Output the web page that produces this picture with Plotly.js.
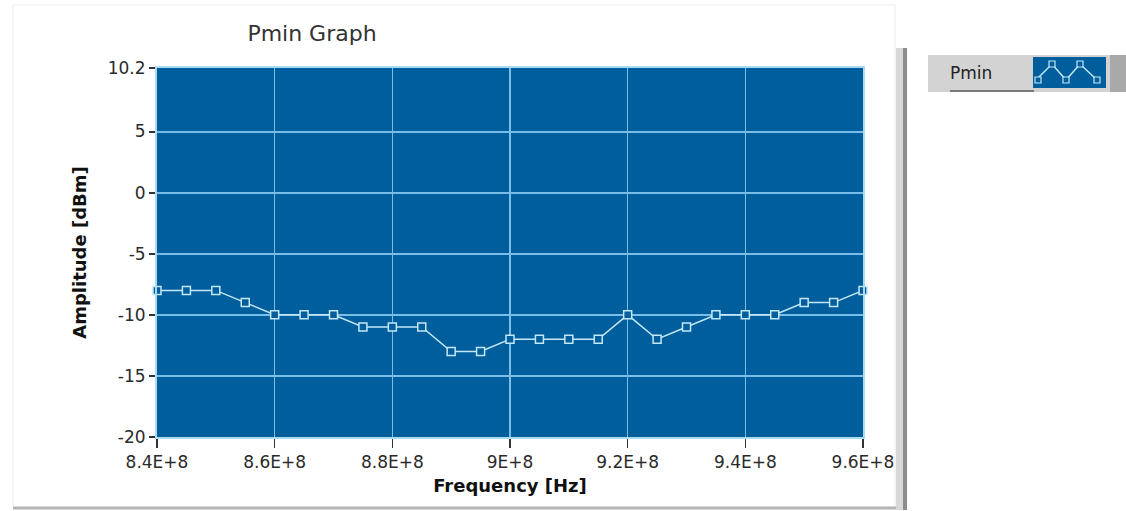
<!DOCTYPE html>
<html>
<head>
<meta charset="utf-8">
<script src="https://cdn.plot.ly/plotly-3.0.1.min.js"></script>
<style>
  html, body { margin: 0; padding: 0; background: #ffffff; }
  #chart { width: 1126px; height: 511px; }
</style>
</head>
<body>
<div id="chart"></div>
<script>
// ---- data ----
const frequencyHz = [
  8.40e8, 8.45e8, 8.50e8, 8.55e8, 8.60e8, 8.65e8, 8.70e8, 8.75e8, 8.80e8,
  8.85e8, 8.90e8, 8.95e8, 9.00e8, 9.05e8, 9.10e8, 9.15e8, 9.20e8, 9.25e8,
  9.30e8, 9.35e8, 9.40e8, 9.45e8, 9.50e8, 9.55e8, 9.60e8
];
const pminDbm = [
  -8, -8, -8, -9, -10, -10, -10, -11, -11,
  -11, -13, -13, -12, -12, -12, -12, -10, -12,
  -11, -10, -10, -10, -9, -9, -8
];
const xTickVals = [8.4e8, 8.6e8, 8.8e8, 9.0e8, 9.2e8, 9.4e8, 9.6e8];
const xTickText = ["8.4E+8", "8.6E+8", "8.8E+8", "9E+8", "9.2E+8", "9.4E+8", "9.6E+8"];
const yTickVals = [-20, -15, -10, -5, 0, 5, 10.2];
const yTickText = ["-20", "-15", "-10", "-5", "0", "5", "10.2"];
const seriesName = "Pmin";

// ---- layout helpers (pixel -> paper) ----
const L = 157, T = 68, W = 706, H = 369;
const px = x => (x - L) / W;
const py = y => (T + H - y) / H;

const plotBlue = "#005e9c";
const gridBlue = "#78bee9";
const traceCol = "#c2e7f8";
const font = "DejaVu Sans, Verdana, sans-serif";

const shapes = [
  // outer panel frame
  {type:"rect", xref:"paper", yref:"paper", x0:px(13), x1:px(895), y0:py(508), y1:py(5),
   line:{color:"#ececec", width:1}, fillcolor:"rgba(0,0,0,0)", layer:"below"},
  // bottom edge of panel
  {type:"line", xref:"paper", yref:"paper", x0:px(13), x1:px(907), y0:py(508), y1:py(508),
   line:{color:"#b4b4b4", width:3}, layer:"below"},
  // vertical splitter bar
  {type:"rect", xref:"paper", yref:"paper", x0:px(896), x1:px(903), y0:py(510), y1:py(48),
   line:{width:0}, fillcolor:"#d9d9d9", layer:"below"},
  {type:"rect", xref:"paper", yref:"paper", x0:px(903), x1:px(907), y0:py(510), y1:py(48),
   line:{width:0}, fillcolor:"#8c8c8c", layer:"below"},
  // legend box
  {type:"rect", xref:"paper", yref:"paper", x0:px(928), x1:px(1112), y0:py(92), y1:py(55),
   line:{width:0}, fillcolor:"#d3d3d3"},
  {type:"rect", xref:"paper", yref:"paper", x0:px(1110), x1:px(1126), y0:py(92), y1:py(55),
   line:{width:0}, fillcolor:"#a9a9a9"},
  {type:"line", xref:"paper", yref:"paper", x0:px(950), x1:px(1034), y0:py(91), y1:py(91),
   line:{color:"#7a7a7a", width:2}},
  {type:"rect", xref:"paper", yref:"paper", x0:px(1033), x1:px(1106), y0:py(88), y1:py(57),
   line:{width:0}, fillcolor:plotBlue},
  {type:"path", xref:"paper", yref:"paper",
   path:`M${px(1036)},${py(80)} L${px(1052)},${py(64)} L${px(1066)},${py(80)} L${px(1080)},${py(64)} L${px(1097)},${py(80)}`,
   line:{color:traceCol, width:1.5}}
];
[[1038,80],[1052,64],[1066,80],[1080,64],[1097,80]].forEach(([cx,cy]) => {
  shapes.push({type:"rect", xref:"paper", yref:"paper",
    x0:px(cx-3), x1:px(cx+3), y0:py(cy+3), y1:py(cy-3),
    line:{color:traceCol, width:1.2}, fillcolor:plotBlue});
});

const trace = {
  x: frequencyHz, y: pminDbm, name: seriesName,
  type: "scatter", mode: "lines+markers",
  line: {color: traceCol, width: 1.5},
  marker: {symbol: "square", size: 8, color: plotBlue, line: {color: traceCol, width: 1.5}},
  cliponaxis: false,
  showlegend: false
};

const layout = {
  width: 1126, height: 511,
  margin: {l: L, r: 1126 - L - W, t: T, b: 511 - T - H, pad: 0},
  paper_bgcolor: "#ffffff",
  plot_bgcolor: plotBlue,
  font: {family: font, color: "#2a2a2a", size: 17},
  title: {text: "Pmin Graph", x: 312/1126, xanchor: "center", xref: "container",
          y: 1 - 33/511, yanchor: "middle", yref: "container",
          font: {family: font, size: 22, color: "#333333"}},
  xaxis: {
    range: [8.4e8, 9.6e8], tickvals: xTickVals, ticktext: xTickText,
    showgrid: true, gridcolor: gridBlue, gridwidth: 1.5,
    zeroline: false, showline: true, mirror: true, linecolor: "#a9dcf3", linewidth: 2,
    ticks: "outside", ticklen: 9, tickwidth: 1.5, tickcolor: "#333333",
    tickfont: {family: font, size: 17, color: "#2a2a2a"},
    title: {text: "<b>Frequency [Hz]</b>", standoff: 8,
            font: {family: font, size: 18, color: "#111111"}},
    fixedrange: true
  },
  yaxis: {
    range: [-20, 10.2], tickvals: yTickVals, ticktext: yTickText,
    showgrid: true, gridcolor: gridBlue, gridwidth: 2,
    zeroline: false, showline: true, mirror: true, linecolor: "#a9dcf3", linewidth: 2,
    ticks: "outside", ticklen: 6, tickwidth: 2, tickcolor: "#333333",
    tickfont: {family: font, size: 17, color: "#2a2a2a"},
    title: {text: "<b>Amplitude [dBm]</b>", standoff: 16,
            font: {family: font, size: 18, color: "#111111"}},
    fixedrange: true
  },
  shapes: shapes,
  annotations: [
    {xref: "paper", yref: "paper", x: px(971), y: py(73), text: seriesName, showarrow: false,
     xanchor: "center", yanchor: "middle", font: {family: font, size: 17, color: "#222222"}}
  ],
  showlegend: false
};

Plotly.newPlot("chart", [trace], layout, {displayModeBar: false, staticPlot: true});
</script>
</body>
</html>
